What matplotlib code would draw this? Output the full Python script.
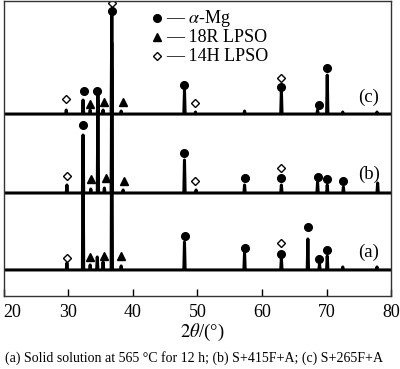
import matplotlib
matplotlib.use("Agg")
import matplotlib.pyplot as plt

plt.rcParams["font.family"] = ["Liberation Serif", "DejaVu Serif"]
plt.rcParams["mathtext.fontset"] = "stix"

# XRD patterns: peak position (2theta) and peak height above each baseline
baseline_a, baseline_b, baseline_c = 26, 103, 182

pos_a = [29.8, 32.3, 33.4, 34.5, 35.4, 36.75, 38.2, 48.0, 57.3, 63.0, 67.1, 68.9, 70.1, 72.5, 77.8]
h_a = [7, 130, 5, 13, 8, 200, 4, 28, 18, 12, 31, 6, 14, 3, 3]

pos_b = [29.8, 32.3, 33.5, 34.6, 35.6, 36.75, 38.5, 48.0, 49.8, 57.3, 63.0, 68.6, 70.1, 72.6, 77.9]
h_b = [8, 58, 4, 100, 5, 150, 3, 33, 3, 8, 8, 11, 8, 6, 10]

pos_c = [29.7, 32.3, 33.4, 34.6, 35.4, 36.75, 38.2, 48.0, 49.7, 57.3, 63.0, 68.6, 70.1, 72.5, 77.8]
h_c = [4, 14, 4, 14, 4, 101, 3, 24, 2, 3, 24, 4, 39, 2, 2]

# phase markers (2theta, height in axis units)
mg_x = [32.4, 34.5, 36.75, 48.0, 63.0, 68.8, 70.1,
        32.3, 48.0, 57.3, 63.0, 68.6, 70.1, 72.6,
        48.1, 57.3, 63.0, 67.1, 68.9, 70.1]
mg_y = [205, 205, 285, 211, 209, 191, 228,
        171, 143, 118, 118, 119, 117, 115,
        60, 48, 42, 69, 37, 46]

r18_x = [33.3, 35.6, 38.5, 33.6, 35.9, 38.7, 33.4, 35.5, 38.1]
r18_y = [192, 194, 194, 117, 118, 115, 39, 40, 40]

h14_x = [29.7, 36.75, 49.6, 63.0, 29.8, 49.7, 63.0, 29.8, 63.0]
h14_y = [197, 293, 193, 218, 120, 115, 128, 38, 53]

xticks = [20, 30, 40, 50, 60, 70, 80]
caption = "(a) Solid solution at 565 \u00b0C for 12 h; (b) S+415F+A; (c) S+265F+A"


def pattern(base, pos, hts, w=0.1):
    xs, ys = [20], [base]
    for p, h in zip(pos, hts):
        xs += [p - w, p, p + w]
        ys += [base, base + h, base]
    xs.append(80)
    ys.append(base)
    return xs, ys


fig = plt.figure(figsize=(4, 3.69), dpi=100)
ax = fig.add_axes([0.009, 0.198, 0.969, 0.799])

for base, pos, hts in [(baseline_a, pos_a, h_a), (baseline_b, pos_b, h_b), (baseline_c, pos_c, h_c)]:
    xs, ys = pattern(base, pos, hts)
    ax.plot(xs, ys, color="black", lw=2.2, solid_joinstyle="round")

ax.plot(mg_x, mg_y, "o", color="black", ms=5.5, ls="none")
ax.plot(r18_x, r18_y, "^", color="black", ms=5.5, ls="none")
ax.plot(h14_x, h14_y, "D", mfc="white", mec="black", ms=3.8, mew=1.0, ls="none")

# legend drawn by hand
leg = [("o", r"$\alpha$-Mg"), ("^", "18R LPSO"), ("D", "14H LPSO")]
for i, (m, lab) in enumerate(leg):
    y = 278 - i * 19
    if m == "D":
        ax.plot([43.8], [y], m, mfc="white", mec="black", ms=3.8, mew=1.0)
    else:
        ax.plot([43.8], [y], m, color="black", ms=5.5)
    ax.text(45.2, y, "\u2014 " + lab, fontsize=13, va="center", ha="left")

for lab, y in [("(c)", 199), ("(b)", 122), ("(a)", 44)]:
    ax.text(76.5, y, lab, fontsize=13.5, ha="center", va="center")

ax.set_xlim(20, 80)
ax.set_ylim(0, 295)
ax.set_xticks(xticks)
ax.set_yticks([])
ax.tick_params(axis="x", direction="in", length=5, width=1, labelsize=13, pad=6)
for s in ax.spines.values():
    s.set_color("#333333")
    s.set_linewidth(1)
ax.get_xticklabels()[0].set_ha("left")

fig.text(0.505, 0.098, "$2\\theta$/(\u00b0)", fontsize=13.5, ha="center", va="center")
fig.text(0.485, 0.030, caption, fontsize=10, ha="center", va="center")

fig.savefig("out.png", dpi=100)
